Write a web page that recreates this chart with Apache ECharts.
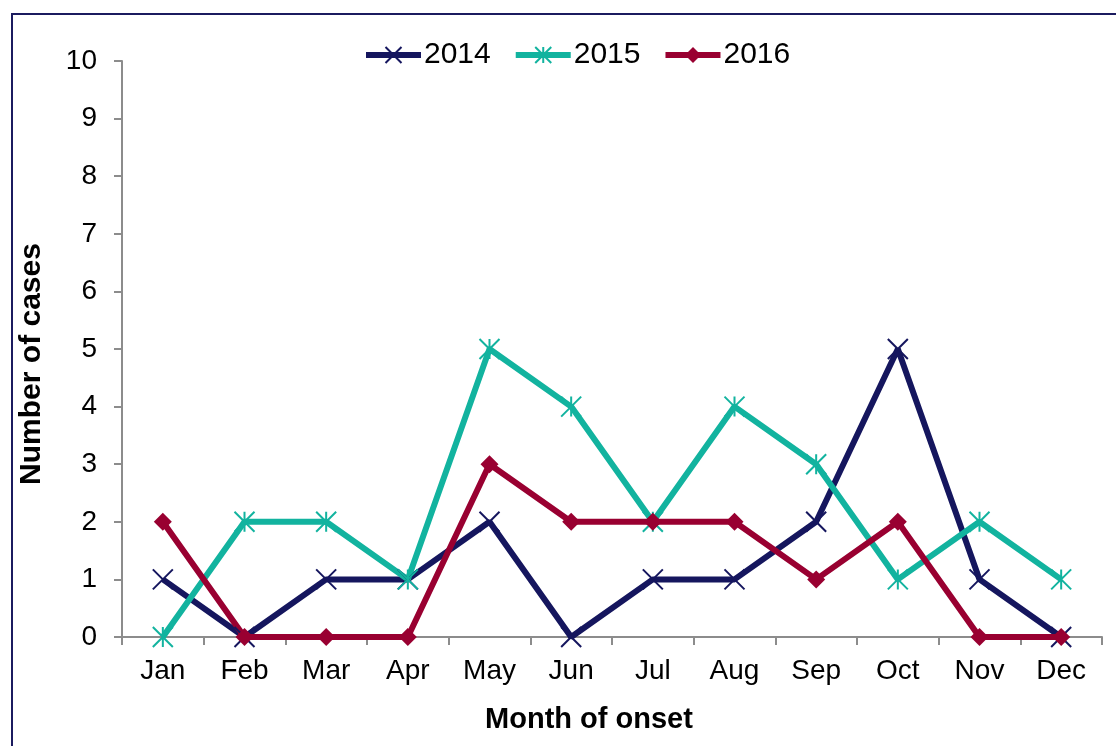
<!DOCTYPE html>
<html><head><meta charset="utf-8">
<script src="https://cdn.jsdelivr.net/npm/echarts@6/dist/echarts.min.js"></script>
<style>html,body{margin:0;padding:0;background:#fff;}#c{width:1116px;height:746px;}
#frame{position:absolute;left:11px;top:13px;width:1120px;height:760px;border:2px solid #1b1b5f;box-sizing:border-box;pointer-events:none;}</style>
</head><body><div id="c"></div><div id="frame"></div>
<script>
const months = ['Jan','Feb','Mar','Apr','May','Jun','Jul','Aug','Sep','Oct','Nov','Dec'];
const s2014 = [1,0,1,1,2,0,1,1,2,5,1,0];
const s2015 = [0,2,2,1,5,4,2,4,3,1,2,1];
const s2016 = [2,0,0,0,3,2,2,2,1,2,0,0];
const yTicks = [0,1,2,3,4,5,6,7,8,9,10];

const crossPath = 'path://M0,0L10,10M10,0L0,10';
const starPath = 'path://M5,0L5,10M0,0L10,10M10,0L0,10';
const font = 'Liberation Sans, Arial, sans-serif';
const chart = echarts.init(document.getElementById('c'), null, {renderer:'canvas'});
function mk(name, data, color, symbol, size, filled){
  return {
    name, type:'line', data, symbol, symbolSize:size,
    lineStyle:{color, width:6},
    itemStyle: filled ? {color, borderColor:color, borderWidth:0} : {color:'rgba(0,0,0,0)', borderColor:color, borderWidth:2},
    emphasis:{disabled:true}, animation:false, z: 2
  };
}
chart.setOption({
  animation:false,
  legend:{top:35, left:358, itemWidth:55, itemHeight:20, itemGap:22,
    lineStyle:{width:6},
    textStyle:{fontFamily:font, fontSize:30, color:'#000', padding:[0,0,0,-2]}, data:['2014','2015','2016']},
  grid:{left:122, right:14, top:61, bottom:109},
  xAxis:{type:'category', data:months, boundaryGap:true,
    axisLine:{lineStyle:{color:'#8c8c8c', width:2}},
    axisTick:{show:true, length:8, lineStyle:{color:'#8c8c8c', width:2}},
    axisLabel:{fontFamily:font, fontSize:28, color:'#000', margin:20},
    name:'Month of onset', nameLocation:'middle', nameGap:68,
    nameTextStyle:{fontFamily:font, fontSize:29, fontWeight:'bold', color:'#000', padding:[0,46,0,0]}},
  yAxis:{type:'value', min:0, max:10, interval:1,
    axisLine:{show:true, lineStyle:{color:'#8c8c8c', width:2}},
    axisTick:{show:true, length:8, lineStyle:{color:'#8c8c8c', width:2}},
    splitLine:{show:false},
    axisLabel:{fontFamily:font, fontSize:28, color:'#000', margin:25,
      formatter:v=>yTicks.includes(v)?String(v):''},
    name:'Number of cases', nameLocation:'middle', nameGap:75,
    nameTextStyle:{fontFamily:font, fontSize:30, fontWeight:'bold', color:'#000', padding:[0,30,0,0]}},
  series:[
    mk('2014', s2014, '#15165e', crossPath, 20, false),
    mk('2015', s2015, '#12b39f', starPath, 20, false),
    mk('2016', s2016, '#990031', 'diamond', 18, true)
  ]
});
</script></body></html>
